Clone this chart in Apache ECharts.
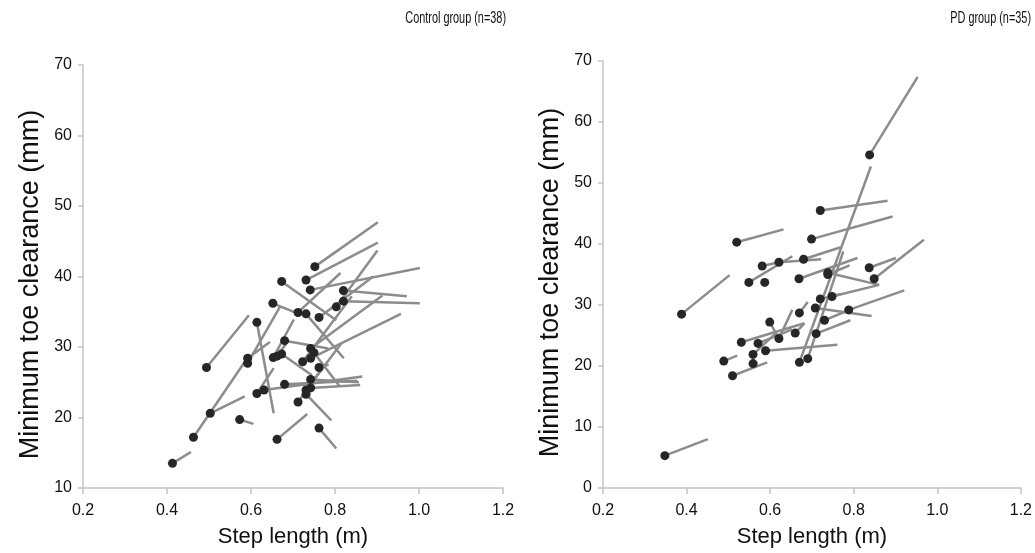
<!DOCTYPE html>
<html>
<head>
<meta charset="utf-8">
<script src="https://cdn.jsdelivr.net/npm/echarts@6/dist/echarts.min.js"></script>
<style>
  html, body { margin: 0; padding: 0; background: #fff; }
  #chart-container { width: 1035px; height: 553px; }
</style>
</head>
<body>
<div id="chart-container"></div>
<script>
// Control group: dot = start of segment, line runs to end point
var ctrlStartX = [0.752, 0.731, 0.673, 0.741, 0.820, 0.820, 0.803, 0.652, 0.712, 0.731,
                  0.762, 0.614, 0.592, 0.592, 0.680, 0.653, 0.662, 0.673, 0.742, 0.742,
                  0.723, 0.762, 0.494, 0.742, 0.680, 0.614, 0.631, 0.742, 0.731, 0.731,
                  0.712, 0.503, 0.573, 0.463, 0.762, 0.662, 0.413, 0.750];
var ctrlStartY = [41.4, 39.5, 39.3, 38.1, 38.0, 36.5, 35.7, 36.2, 34.9, 34.7,
                  34.2, 33.5, 28.4, 27.7, 30.9, 28.5, 28.7, 29.0, 29.8, 28.4,
                  27.9, 27.1, 27.1, 25.4, 24.7, 23.4, 23.9, 24.2, 23.9, 23.3,
                  22.2, 20.6, 19.7, 17.2, 18.5, 16.9, 13.5, 29.2];
var ctrlEndX   = [0.902, 0.902, 0.803, 1.002, 0.971, 1.002, 0.901, 0.705, 0.813, 0.821,
                  0.891, 0.654, 0.645, 0.670, 0.784, 0.702, 0.690, 0.745, 0.913, 0.957,
                  0.840, 0.785, 0.595, 0.857, 0.853, 0.654, 0.865, 0.860, 0.815, 0.791,
                  0.770, 0.585, 0.606, 0.591, 0.803, 0.734, 0.457, 0.810];
var ctrlEndY   = [47.7, 44.8, 33.8, 41.2, 37.2, 36.2, 43.7, 34.9, 40.5, 28.4,
                  40.0, 20.6, 30.7, 35.8, 29.8, 33.9, 31.0, 26.0, 37.3, 34.7,
                  37.2, 27.5, 34.5, 25.0, 25.2, 27.0, 25.8, 24.6, 30.5, 19.6,
                  27.0, 23.0, 19.1, 28.4, 15.6, 20.5, 15.1, 24.5];

// PD group
var pdStartX = [0.720, 0.699, 0.520, 0.388, 0.581, 0.621, 0.680, 0.549, 0.587, 0.669,
                0.738, 0.837, 0.849, 0.738, 0.720, 0.748, 0.788, 0.708, 0.730, 0.710,
                0.670, 0.599, 0.531, 0.571, 0.621, 0.660, 0.589, 0.559, 0.559, 0.489,
                0.510, 0.670, 0.690, 0.838, 0.348];
var pdStartY = [45.5, 40.8, 40.3, 28.5, 36.4, 37.0, 37.5, 33.7, 33.7, 34.3,
                35.3, 36.1, 34.3, 35.0, 31.0, 31.4, 29.2, 29.5, 27.5, 25.3,
                28.7, 27.2, 23.9, 23.7, 24.5, 25.4, 22.5, 21.9, 20.4, 20.8,
                18.4, 20.6, 21.2, 54.6, 5.3];
var pdEndX   = [0.881, 0.893, 0.632, 0.503, 0.621, 0.722, 0.771, 0.653, 0.595, 0.809,
                0.861, 0.901, 0.968, 0.790, 0.770, 0.861, 0.921, 0.843, 0.800, 0.792,
                0.690, 0.621, 0.682, 0.653, 0.653, 0.682, 0.761, 0.614, 0.570, 0.521,
                0.593, 0.841, 0.775, 0.953, 0.451];
var pdEndY   = [47.1, 44.5, 42.4, 34.9, 37.0, 37.5, 39.5, 38.0, 33.9, 37.7,
                33.3, 37.7, 40.7, 36.5, 31.8, 33.3, 32.4, 28.2, 29.5, 27.5,
                30.5, 24.5, 27.0, 26.0, 29.2, 27.0, 23.5, 25.4, 20.6, 21.7,
                20.6, 52.7, 38.8, 67.4, 8.0];

var titles = ['Control group (n=38)', 'PD group (n=35)'];
var xName = 'Step length (m)';
var yName = 'Minimum toe clearance (mm)';

var FONT = 'Liberation Sans';
var lineColor = '#8c8c8c';
var dotColor = '#262626';
var axisColor = '#c4c4c4';

function segs(x1, y1, x2, y2) {
    return x1.map(function (x, i) {
        return { coords: [[x, y1[i]], [x2[i], y2[i]]] };
    });
}
function dots(x, y) {
    return x.map(function (v, i) { return [v, y[i]]; });
}

function makeX(idx) {
    return {
        gridIndex: idx, type: 'value', min: 0.2, max: 1.2, interval: 0.2,
        name: xName, nameLocation: 'middle', nameGap: 38,
        nameTextStyle: { fontFamily: FONT, fontSize: 22, color: '#111' },
        axisLine: { lineStyle: { color: axisColor, width: 1.5 } },
        axisTick: { show: true, inside: false, length: 6, lineStyle: { color: axisColor, width: 1.5 } },
        axisLabel: { fontFamily: FONT, fontSize: 16, color: '#111', margin: 15,
                     formatter: function (v) { return v.toFixed(1); } },
        splitLine: { show: false }
    };
}
function makeY(idx, min) {
    return {
        gridIndex: idx, type: 'value', min: min, max: 70, interval: 10,
        name: yName, nameLocation: 'middle', nameGap: 39,
        nameTextStyle: { fontFamily: FONT, fontSize: 27, color: '#111', padding: [0, 16, 0, 0] },
        axisLine: { show: true, lineStyle: { color: axisColor, width: 1.5 } },
        axisTick: { show: true, inside: false, length: 5, lineStyle: { color: axisColor, width: 1.5 } },
        axisLabel: { fontFamily: FONT, fontSize: 16, color: '#111', margin: 11 },
        splitLine: { show: false }
    };
}

var dom = document.getElementById('chart-container');
var myChart = echarts.init(dom, null, { renderer: 'canvas' });

var option = {
    backgroundColor: '#fff',
    animation: false,
    graphic: [
        { type: 'text', x: 506, y: 19, scaleX: 0.68,
          style: { text: titles[0], fill: '#111', font: '16px "Liberation Sans"',
                   textAlign: 'right', textVerticalAlign: 'middle' } },
        { type: 'text', x: 1031, y: 19, scaleX: 0.68,
          style: { text: titles[1], fill: '#111', font: '16px "Liberation Sans"',
                   textAlign: 'right', textVerticalAlign: 'middle' } }
    ],
    grid: [
        { left: 83, top: 65, width: 420, height: 425 },
        { left: 603, top: 61, width: 419, height: 428 }
    ],
    xAxis: [makeX(0), makeX(1)],
    yAxis: [makeY(0, 10), makeY(1, 0)],
    series: [
        { type: 'lines', coordinateSystem: 'cartesian2d', xAxisIndex: 0, yAxisIndex: 0,
          data: segs(ctrlStartX, ctrlStartY, ctrlEndX, ctrlEndY),
          lineStyle: { color: lineColor, width: 2.5, opacity: 1 }, z: 2 },
        { type: 'scatter', xAxisIndex: 0, yAxisIndex: 0,
          data: dots(ctrlStartX, ctrlStartY), symbolSize: 9,
          itemStyle: { color: dotColor, opacity: 1 }, z: 3 },
        { type: 'lines', coordinateSystem: 'cartesian2d', xAxisIndex: 1, yAxisIndex: 1,
          data: segs(pdStartX, pdStartY, pdEndX, pdEndY),
          lineStyle: { color: lineColor, width: 2.5, opacity: 1 }, z: 2 },
        { type: 'scatter', xAxisIndex: 1, yAxisIndex: 1,
          data: dots(pdStartX, pdStartY), symbolSize: 9,
          itemStyle: { color: dotColor, opacity: 1 }, z: 3 }
    ]
};

myChart.setOption(option);
window.addEventListener('resize', myChart.resize);
</script>
</body>
</html>
